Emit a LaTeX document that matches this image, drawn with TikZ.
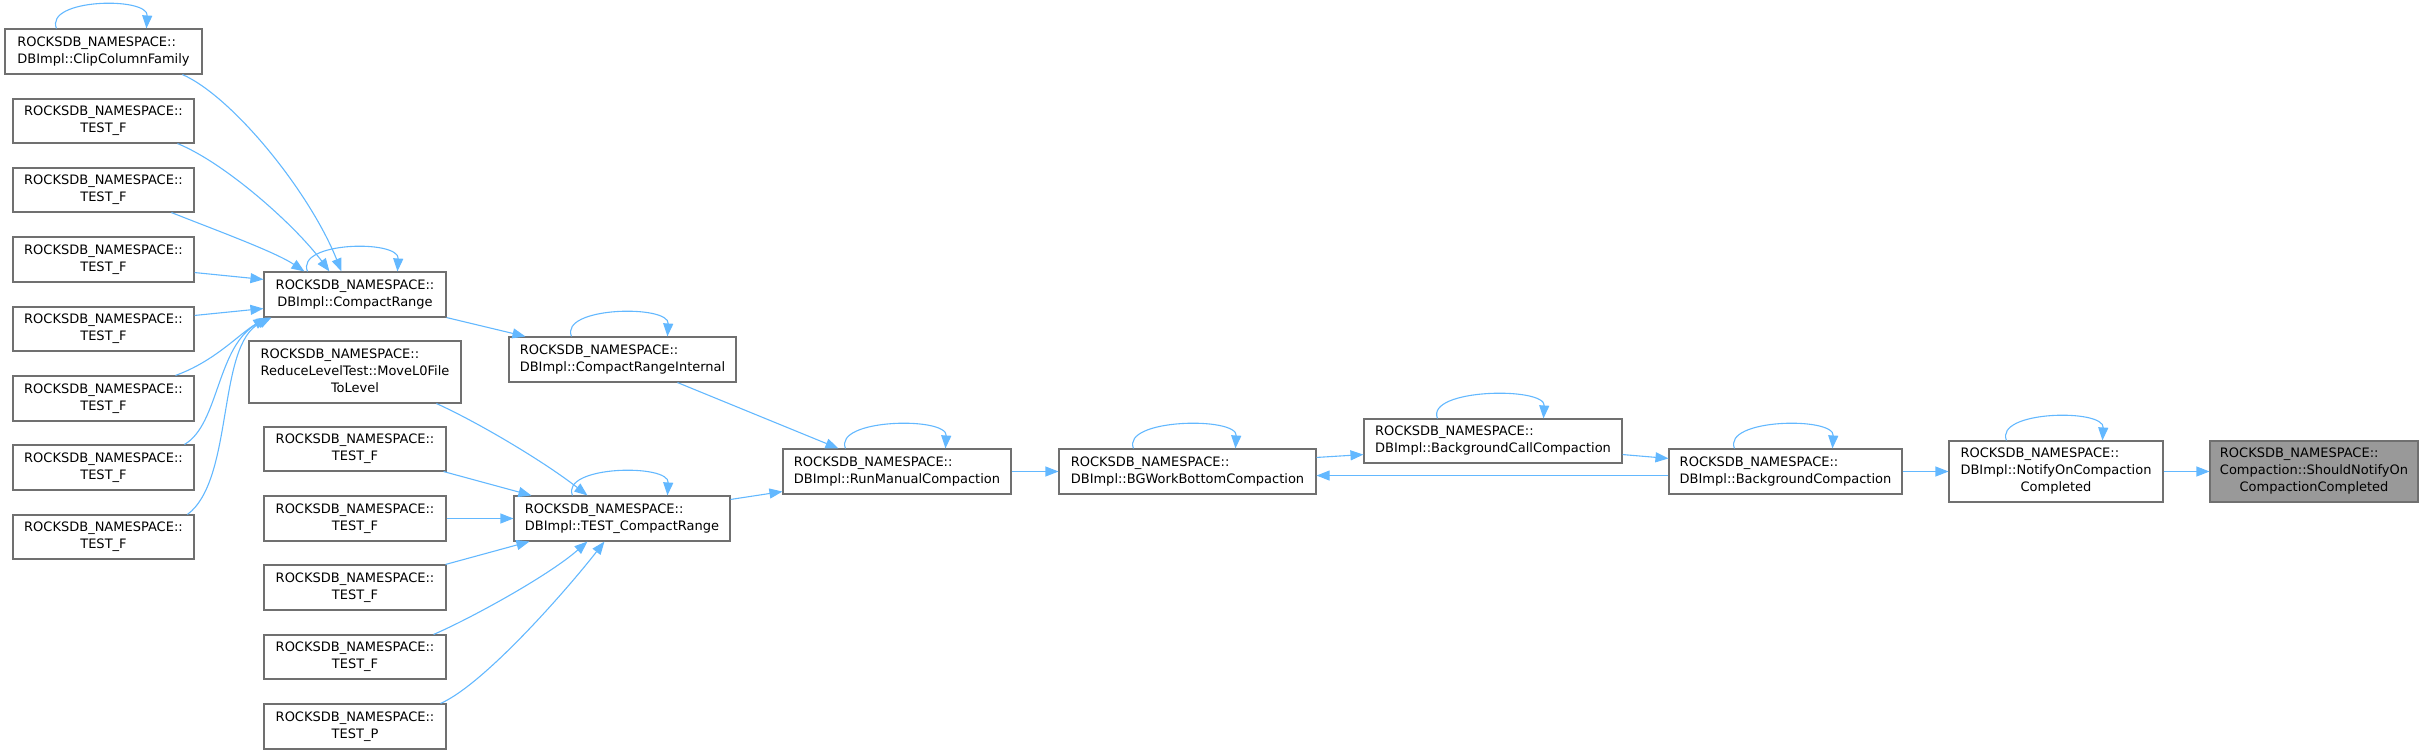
\documentclass[tikz,border=0pt]{standalone}
\usepackage{fontspec}
\setmainfont{DejaVu Sans}
\usetikzlibrary{arrows.meta,calc}
\definecolor{edgeblue}{HTML}{63B8FF}
\definecolor{bordergray}{HTML}{707070}
\definecolor{hlgray}{HTML}{999999}
\newcommand\RN{ROCKSDB\_NAMESPACE::}
\newcommand\lbltwo[2]{\begin{tabular}{@{}l@{}}#1\\\multicolumn{1}{@{}c@{}}{#2}\end{tabular}}
\newcommand\lblthree[3]{\begin{tabular}{@{}l@{}}#1\\#2\\\multicolumn{1}{@{}c@{}}{#3}\end{tabular}}
\newcommand\bnode[7][]{\node[box,#1,minimum width={(#5-#3)*0.5pt},minimum height={(#6-#4)*0.5pt}] (#2) at ({(#3+#5)/2},{(#4+#6)/2}) {#7};}
\newcommand\selfloop[3]{\draw[conn] ($(#1.north west)+(#2,0)$) .. controls +(-12,-30) and +(2,-32) .. ($(#1.north west)+(#3,0)$);}
\tikzset{
  box/.style={draw=bordergray, fill=white, line width=0.55pt, inner sep=0pt, font=\fontsize{6.5}{8.5}\selectfont},
  conn/.style={draw=edgeblue, line width=0.55pt, -{Triangle[length=6.5pt,width=5pt]}}
}
\begin{document}
\begin{tikzpicture}[x=0.5pt,y=-0.5pt]
\useasboundingbox (0,0) rectangle (2426,754);
% nodes
\bnode{clip}{5}{29}{202}{74}{\lbltwo{\RN}{DBImpl::ClipColumnFamily}}
\bnode{tf1}{13}{99}{194}{143}{\lbltwo{\RN}{TEST\_F}}
\bnode{tf2}{13}{168}{194}{212}{\lbltwo{\RN}{TEST\_F}}
\bnode{tf3}{13}{237}{194}{282}{\lbltwo{\RN}{TEST\_F}}
\bnode{tf4}{13}{307}{194}{351}{\lbltwo{\RN}{TEST\_F}}
\bnode{tf5}{13}{376}{194}{421}{\lbltwo{\RN}{TEST\_F}}
\bnode{tf6}{13}{445}{194}{490}{\lbltwo{\RN}{TEST\_F}}
\bnode{tf7}{13}{515}{194}{559}{\lbltwo{\RN}{TEST\_F}}
\bnode{cr}{264}{272}{446}{317}{\lbltwo{\RN}{DBImpl::CompactRange}}
\bnode{mv}{249}{341}{461}{403}{\lblthree{\RN}{ReduceLevelTest::MoveL0File}{ToLevel}}
\bnode{ta}{264}{427}{446}{471}{\lbltwo{\RN}{TEST\_F}}
\bnode{tb}{264}{496}{446}{541}{\lbltwo{\RN}{TEST\_F}}
\bnode{tc}{264}{565}{446}{610}{\lbltwo{\RN}{TEST\_F}}
\bnode{td}{264}{635}{446}{679}{\lbltwo{\RN}{TEST\_F}}
\bnode{tp}{264}{704}{446}{749}{\lbltwo{\RN}{TEST\_P}}
\bnode{cri}{509}{337}{736}{382}{\lbltwo{\RN}{DBImpl::CompactRangeInternal}}
\bnode{tcr}{514}{496}{730}{541}{\lbltwo{\RN}{DBImpl::TEST\_CompactRange}}
\bnode{rmc}{783}{449}{1011}{494}{\lbltwo{\RN}{DBImpl::RunManualCompaction}}
\bnode{bgw}{1059}{449}{1316}{494}{\lbltwo{\RN}{DBImpl::BGWorkBottomCompaction}}
\bnode{bcc}{1364}{419}{1622}{463}{\lbltwo{\RN}{DBImpl::BackgroundCallCompaction}}
\bnode{bc}{1669}{449}{1902}{494}{\lbltwo{\RN}{DBImpl::BackgroundCompaction}}
\bnode{noc}{1949}{441}{2163}{502}{\lblthree{\RN}{DBImpl::NotifyOnCompaction}{Completed}}
\bnode[fill=hlgray]{snc}{2210}{441}{2418}{502}{\lblthree{\RN}{Compaction::ShouldNotifyOn}{CompactionCompleted}}
% self loops
\selfloop{clip}{52}{142}
\selfloop{cr}{44}{134}
\selfloop{cri}{63}{159}
\selfloop{tcr}{59}{154}
\selfloop{rmc}{63}{163}
\selfloop{bgw}{75}{177}
\selfloop{bcc}{74}{180}
\selfloop{bc}{66}{164}
\selfloop{noc}{58}{154}
% edges into CompactRange
\draw[conn] ($(clip.south west)+(178,0)$) .. controls +(50,22) and +(-32,-80) .. ($(cr.north west)+(78,0)$);
\draw[conn] ($(tf1.south west)+(165,0)$) .. controls +(47,19) and +(-35,-47) .. ($(cr.north west)+(66,0)$);
\draw[conn] ($(tf2.south west)+(159,0)$) .. controls +(40,16) and +(-30,-20) .. ($(cr.north west)+(41,0)$);
\draw[conn] ($(tf3.south east)+(0,-10)$) -- ($(cr.north west)+(0,8)$);
\draw[conn] ($(tf4.north east)+(0,9)$) -- ($(cr.south west)+(0,-9)$);
\draw[conn] ($(tf5.north west)+(163,0)$) .. controls +(39,-14) and +(-28,17) .. ($(cr.south west)+(3,0)$);
\draw[conn] ($(tf6.north west)+(172,0)$) .. controls +(35,-20) and +(-53,27) .. ($(cr.south west)+(6,0)$);
\draw[conn] ($(tf7.north west)+(175,0)$) .. controls +(47,-35) and +(-55,27) .. ($(cr.south west)+(8,0)$);
% CompactRange chain
\draw[conn] (cr.south east) -- ($(cri.north west)+(17,0)$);
\draw[conn] ($(cri.south west)+(169,0)$) -- ($(rmc.north west)+(56,0)$);
% edges into TEST_CompactRange
\draw[conn] ($(mv.south west)+(188,0)$) .. controls +(40,18) and +(-45,-35) .. ($(tcr.north west)+(74,0)$);
\draw[conn] ($(ta.south east)+(-3,0)$) -- ($(tcr.north west)+(18,0)$);
\draw[conn] (tb.east) -- (tcr.west);
\draw[conn] ($(tc.north east)+(-1,0)$) -- ($(tcr.south west)+(16,0)$);
\draw[conn] ($(td.north east)+(-13,0)$) .. controls +(35,-15) and +(-40,35) .. ($(tcr.south west)+(74,0)$);
\draw[conn] ($(tp.north east)+(-6,0)$) .. controls +(45,-20) and +(-35,45) .. ($(tcr.south west)+(91,0)$);
\draw[conn] ($(tcr.north east)+(0,4)$) -- ($(rmc.south west)+(0,-3)$);
% right part
\draw[conn] (rmc.east) -- (bgw.west);
\draw[conn] ($(bgw.north east)+(0,9)$) -- ($(bcc.south west)+(0,-9)$);
\draw[conn] ($(bcc.south east)+(0,-9)$) -- ($(bc.north west)+(0,10)$);
\draw[conn] ($(bc.south west)+(0,-19)$) -- ($(bgw.south east)+(0,-19)$);
\draw[conn] (bc.east) -- (noc.west);
\draw[conn] (noc.east) -- (snc.west);
\end{tikzpicture}
\end{document}
